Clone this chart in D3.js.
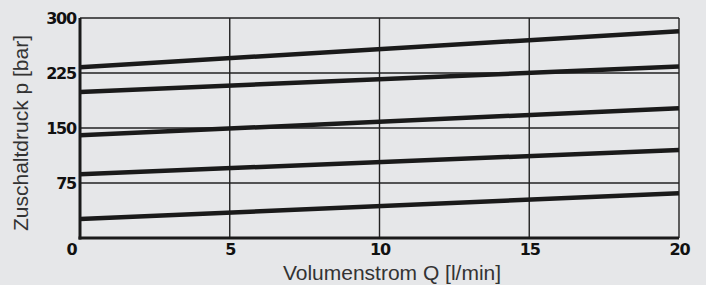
<!DOCTYPE html>
<html>
<head>
<meta charset="utf-8">
<script src="https://cdn.jsdelivr.net/npm/d3@7"></script>
<style>
  html, body { margin: 0; padding: 0; background: #e6e7e9; }
  svg { display: block; }
</style>
</head>
<body>
<div id="chart"></div>
<script>
// Volumenstrom Q [l/min] at both ends of each line
const flow = [0, 20];
// Zuschaltdruck p [bar] per curve, at Q = 0 and Q = 20
const curveA = [233, 282];
const curveB = [199, 234];
const curveC = [140, 177];
const curveD = [87, 120];
const curveE = [26, 61];
const xTicks = [0, 5, 10, 15, 20];
const yTicks = [0, 75, 150, 225, 300];

const curves = [curveA, curveB, curveC, curveD, curveE];

const width = 706, height = 285;
const margin = { top: 18, right: 27, bottom: 47, left: 80 };

const svg = d3.select("#chart")
    .append("svg")
    .attr("width", width)
    .attr("height", height);

const x = d3.scaleLinear()
    .domain([0, 20])
    .range([margin.left, width - margin.right]);

const y = d3.scaleLinear()
    .domain([0, 300])
    .range([height - margin.bottom, margin.top]);

// grid
const grid = svg.append("g").attr("stroke", "#222").attr("stroke-width", 1.4);
grid.selectAll("line.h")
    .data(yTicks.slice(1))
    .enter().append("line")
    .attr("class", "h")
    .attr("x1", x(0)).attr("x2", x(20))
    .attr("y1", d => y(d)).attr("y2", d => y(d));
grid.selectAll("line.v")
    .data(xTicks.slice(1))
    .enter().append("line")
    .attr("class", "v")
    .attr("y1", y(0)).attr("y2", y(300))
    .attr("x1", d => x(d)).attr("x2", d => x(d));

// curves
const line = d3.line()
    .x((d, i) => x(flow[i]))
    .y(d => y(d));

svg.append("g")
    .selectAll("path")
    .data(curves)
    .enter().append("path")
    .attr("d", d => line(d))
    .attr("fill", "none")
    .attr("stroke", "#1a1a1a")
    .attr("stroke-width", 4.5);

// thick left and bottom axes
svg.append("line")
    .attr("x1", x(0)).attr("x2", x(0))
    .attr("y1", y(0) + 1.5).attr("y2", y(300))
    .attr("stroke", "#1a1a1a").attr("stroke-width", 3);
svg.append("line")
    .attr("x1", x(0) - 1.5).attr("x2", x(20))
    .attr("y1", y(0)).attr("y2", y(0))
    .attr("stroke", "#1a1a1a").attr("stroke-width", 3);

const tickStyle = g => g.selectAll("text")
    .attr("fill", "#111")
    .style("font-family", "'DejaVu Sans', sans-serif")
    .style("font-weight", "bold")
    .style("font-size", "16px")
    .style("letter-spacing", "-1.2px");

// tick labels
const yAxis = d3.axisLeft(y).tickValues(yTicks.slice(1)).tickSize(0).tickPadding(3);
svg.append("g")
    .attr("transform", `translate(${x(0) - 1},0)`)
    .call(yAxis)
    .call(g => g.select(".domain").remove())
    .call(tickStyle)
    .call(g => g.selectAll("text").attr("dy", "0.36em"));

const xAxis = d3.axisBottom(x).tickValues(xTicks).tickSize(0).tickPadding(6);
svg.append("g")
    .attr("transform", `translate(0,${y(0)})`)
    .call(xAxis)
    .call(g => g.select(".domain").remove())
    .call(tickStyle)
    .call(g => g.selectAll("text").attr("dx", d => d === 0 ? -9 : 0));

// axis titles
svg.append("text")
    .attr("x", 392)
    .attr("y", 280)
    .attr("text-anchor", "middle")
    .attr("fill", "#333")
    .style("font-family", "'Liberation Sans', Arial, sans-serif")
    .style("font-size", "21px")
    .text("Volumenstrom Q [l/min]");

svg.append("text")
    .attr("transform", "translate(28,133) rotate(-90)")
    .attr("text-anchor", "middle")
    .attr("fill", "#333")
    .style("font-family", "'Liberation Sans', Arial, sans-serif")
    .style("font-size", "21px")
    .text("Zuschaltdruck p [bar]");
</script>
</body>
</html>
